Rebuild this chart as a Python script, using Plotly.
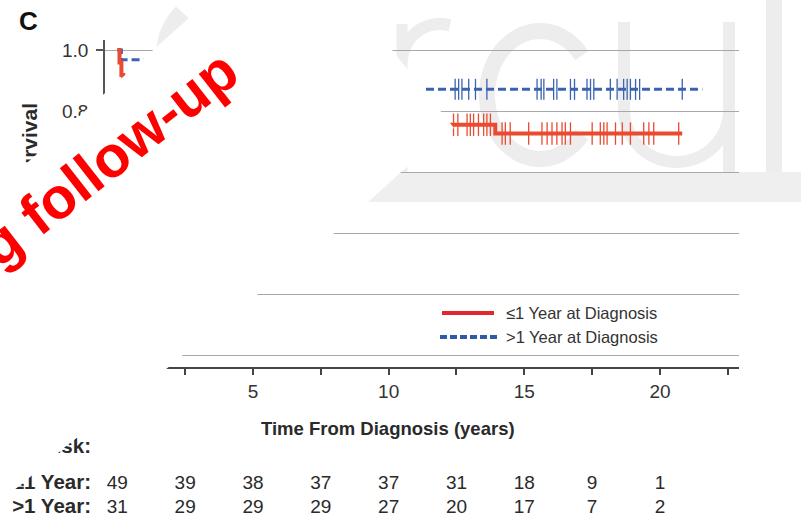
import numpy as np
import plotly.graph_objects as go

W, H = 801, 521

# ---------------- data ----------------
risk_times = [0, 2.5, 5, 7.5, 10, 12.5, 15, 17.5, 20]
risk_le1 = [49, 39, 38, 37, 37, 31, 18, 9, 1]
risk_gt1 = [31, 29, 29, 29, 27, 20, 17, 7, 2]

x_tickvals = [0, 2.5, 5, 7.5, 10, 12.5, 15, 17.5, 20, 22.5]
x_ticktext = ["0", "", "5", "", "10", "", "15", "", "20", ""]
y_tickvals = [0, 0.2, 0.4, 0.6, 0.8, 1.0]
y_ticktext = ["0.0", "0.2", "0.4", "0.6", "0.8", "1.0"]

# <=1 year at diagnosis (red, solid)
red_event_t = [0.08, 0.15, 0.22, 0.6, 1.0, 1.5, 2.1, 3.8, 6.3, 13.93]
red_surv = [0.959, 0.918, 0.878, 0.857, 0.837, 0.816, 0.796, 0.776, 0.755, 0.726]
red_end = 20.82
red_cens = [12.39, 12.55, 12.89, 13.01, 13.13, 13.31, 13.5, 13.62, 13.75,
            14.18, 14.3, 14.48, 15.16, 15.65, 15.84, 16.02, 16.2, 16.39,
            16.51, 16.7, 17.5, 17.8, 17.93, 18.05, 18.36, 18.61, 18.91,
            19.4, 19.59, 19.77, 20.69]

# >1 year at diagnosis (blue, dashed)
blue_event_t = [0.15, 1.2, 8.0, 9.3]
blue_surv = [0.968, 0.935, 0.903, 0.871]
blue_end = 21.56
blue_cens = [12.45, 12.58, 12.7, 12.95, 13.2, 13.62, 15.47, 15.62, 15.72,
             16.08, 16.2, 16.7, 16.85, 17.31, 17.44, 17.56, 18.17, 18.42,
             18.66, 18.79, 18.91, 19.1, 19.25, 20.82]

RED = "#ea4a30"
BLUE = "#3a63b3"
FONT = "Liberation Sans, Arial, sans-serif"
TXT = "#2a2a2a"


def step_xy(ev_t, surv, end):
    xs = [0.0] + list(ev_t) + [end]
    ys = [1.0] + list(surv) + [surv[-1]]
    return xs, ys


def surv_at(ev_t, surv, times):
    ev = np.array(ev_t)
    sv = np.array(surv)
    out = []
    for t in times:
        idx = np.searchsorted(ev, t, side="right") - 1
        out.append(1.0 if idx < 0 else float(sv[idx]))
    return out


def PX(x):
    return x / W


def PY(y):
    return 1 - y / H


def path(pts, close=True):
    s = "M " + " L ".join(f"{PX(x):.5f},{PY(y):.5f}" for x, y in pts)
    return s + (" Z" if close else "")


fig = go.Figure()

# ---- curves ----
rx, ry = step_xy(red_event_t, red_surv, red_end)
bx, by = step_xy(blue_event_t, blue_surv, blue_end)
fig.add_trace(go.Scatter(x=bx, y=by, mode="lines", line=dict(color=BLUE, width=3, dash="8px,4px", shape="hv"),
                         showlegend=False, hoverinfo="skip"))
fig.add_trace(go.Scatter(x=rx, y=ry, mode="lines", line=dict(color=RED, width=4, shape="hv"),
                         showlegend=False, hoverinfo="skip"))
fig.add_trace(go.Scatter(x=blue_cens, y=surv_at(blue_event_t, blue_surv, blue_cens), mode="markers",
                         marker=dict(symbol="line-ns", size=15, line=dict(color=BLUE, width=1.3)),
                         showlegend=False, hoverinfo="skip"))
fig.add_trace(go.Scatter(x=red_cens, y=surv_at(red_event_t, red_surv, red_cens), mode="markers",
                         marker=dict(symbol="line-ns", size=16, line=dict(color=RED, width=1.3)),
                         showlegend=False, hoverinfo="skip"))

# ---- number at risk (x in years, y in page pixels) ----
fig.add_trace(go.Scatter(x=risk_times, y=[484] * len(risk_times), xaxis="x", yaxis="y2", mode="text",
                         text=[str(v) for v in risk_le1], textposition="middle center",
                         textfont=dict(size=19, color=TXT, family=FONT), cliponaxis=False,
                         showlegend=False, hoverinfo="skip"))
fig.add_trace(go.Scatter(x=risk_times, y=[508] * len(risk_times), xaxis="x", yaxis="y2", mode="text",
                         text=[str(v) for v in risk_gt1], textposition="middle center",
                         textfont=dict(size=19, color=TXT, family=FONT), cliponaxis=False,
                         showlegend=False, hoverinfo="skip"))
fig.add_trace(go.Scatter(x=[91, 91, 91], y=[448, 484, 508], xaxis="x2", yaxis="y2", mode="text",
                         text=["<b>No. at Risk:</b>", "<b>≤1 Year:</b>", "<b>&gt;1 Year:</b>"],
                         textposition="middle left",
                         textfont=dict(size=20.5, color=TXT, family=FONT), cliponaxis=False,
                         showlegend=False, hoverinfo="skip"))
# carrier for the rotated y title axis
fig.add_trace(go.Scatter(x=[None], y=[None], xaxis="x2", yaxis="y3", mode="markers",
                         showlegend=False, hoverinfo="skip"))

# ---- watermark (behind everything) ----
WM = "#ededed"
shapes = []
shapes.append(dict(type="rect", xref="paper", yref="paper", x0=PX(300), x1=PX(801), y0=PY(202), y1=PY(172),
                   fillcolor="#efefef", line=dict(width=0), layer="below"))
th = np.radians(np.linspace(38, 322, 60))
c_pts = [(540 + 53 * np.cos(t), 95 - 64 * np.sin(t)) for t in th]
shapes.append(dict(type="path", xref="paper", yref="paper", path=path(c_pts, close=False),
                   line=dict(color=WM, width=16), layer="below"))
th = np.radians(np.linspace(180, 360, 40))
u_pts = [(624, 22), (624, 110)] + [(676.5 + 52.5 * np.cos(t), 110 - 52 * np.sin(t)) for t in th] + [(729, 22)]
shapes.append(dict(type="path", xref="paper", yref="paper", path=path(u_pts, close=False),
                   line=dict(color=WM, width=12), layer="below"))
shapes.append(dict(type="path", xref="paper", yref="paper", path=path([(729, 100), (729, 172)], close=False),
                   line=dict(color=WM, width=12), layer="below"))
shapes.append(dict(type="rect", xref="paper", yref="paper", x0=PX(766), x1=PX(782), y0=PY(172), y1=PY(-5),
                   fillcolor=WM, line=dict(width=0), layer="below"))
shapes.append(dict(type="path", xref="paper", yref="paper", path=path([(402, 172), (402, 24)], close=False),
                   line=dict(color=WM, width=11), layer="below"))
th = np.radians(np.linspace(180, 75, 20))
r_pts = [(440 + 38 * np.cos(t), 62 - 38 * np.sin(t)) for t in th]
shapes.append(dict(type="path", xref="paper", yref="paper", path=path(r_pts, close=False),
                   line=dict(color=WM, width=12), layer="below"))
th = np.radians(np.linspace(205, 135, 20))
a_pts = [(225 + 60 * np.cos(t), 55 - 60 * np.sin(t)) for t in th]
shapes.append(dict(type="path", xref="paper", yref="paper", path=path(a_pts, close=False),
                   line=dict(color=WM, width=18), layer="below"))

# ---- white diagonal banner (covers upper-left of chart) ----
band = [(-10, 196), (218, -8), (346, -8), (454, 128), (400, 173), (333, 234), (258, 294),
        (183, 355), (170, 366), (65, 447), (22, 484), (-10, 508)]
shapes.append(dict(type="path", xref="paper", yref="paper", path=path(band),
                   fillcolor="white", line=dict(width=0), layer="above"))

# ---- legend samples ----
shapes.append(dict(type="line", xref="paper", yref="paper", x0=PX(442), x1=PX(494), y0=PY(313), y1=PY(313),
                   line=dict(color="#e2282c", width=4), layer="above"))
shapes.append(dict(type="line", xref="paper", yref="paper", x0=PX(440), x1=PX(497), y0=PY(337), y1=PY(337),
                   line=dict(color="#2d5ba8", width=4, dash="7px,3px"), layer="above"))

annotations = [
    dict(text="<b>C</b>", x=PX(28), y=PY(21), xref="paper", yref="paper", showarrow=False,
         font=dict(size=26, color="#111", family=FONT), xanchor="center", yanchor="middle"),
    dict(text="<b>Time From Diagnosis (years)</b>", x=PX(388), y=PY(428), xref="paper", yref="paper",
         showarrow=False, font=dict(size=18.5, color=TXT, family=FONT), xanchor="center", yanchor="middle"),
    dict(text="≤1 Year at Diagnosis", x=PX(504), y=PY(313), xref="paper", yref="paper", showarrow=False,
         font=dict(size=16.5, color="#333", family=FONT), xanchor="left", yanchor="middle"),
    dict(text="&gt;1 Year at Diagnosis", x=PX(504), y=PY(337), xref="paper", yref="paper", showarrow=False,
         font=dict(size=16.5, color="#333", family=FONT), xanchor="left", yanchor="middle"),
    dict(text="<b>Long follow-up</b>", x=PX(66), y=PY(190), xref="paper", yref="paper", showarrow=False,
         textangle=-38, font=dict(size=58, color="#ff0000", family=FONT), xanchor="center", yanchor="middle"),
]

xr0 = (105 - 117.33) / 27.133
xr1 = (739 - 117.33) / 27.133
yr0 = (355 - 367) / 305
yr1 = (355 - 40) / 305

fig.update_layout(
    width=W, height=H,
    margin=dict(l=0, r=0, t=0, b=0, pad=0),
    paper_bgcolor="white", plot_bgcolor="rgba(0,0,0,0)",
    showlegend=False,
    font=dict(family=FONT, color=TXT),
    xaxis=dict(domain=[105 / W, 739 / W], range=[xr0, xr1], tickvals=x_tickvals, ticktext=x_ticktext,
               ticks="outside", ticklen=6, tickwidth=1.5, tickcolor="#444", showline=True, linecolor="#444",
               linewidth=2, showgrid=False, zeroline=False, tickfont=dict(size=19, color="#333"),
               anchor="y", automargin=False, fixedrange=True, ticklabelstandoff=0),
    yaxis=dict(domain=[1 - 367 / H, 1 - 40 / H], range=[yr0, yr1], tickvals=y_tickvals, ticktext=y_ticktext,
               ticks="outside", ticklen=7, tickwidth=1.5, tickcolor="#555", showline=True, linecolor="#555",
               linewidth=1.5, showgrid=True, gridcolor="#a8a8a8", gridwidth=1.3, zeroline=False,
               tickfont=dict(size=19, color="#333"), anchor="x", automargin=False, fixedrange=True,
               ticklabelstandoff=4),
    xaxis2=dict(domain=[0, 1], range=[0, W], visible=False, anchor="y2", fixedrange=True),
    yaxis2=dict(domain=[0, 1], range=[H, 0], visible=False, anchor="x2", fixedrange=True),
    yaxis3=dict(domain=[0, 1], range=[H, 0], overlaying="y2", anchor="free", position=41 / W, side="left",
                tickvals=[147], ticktext=["<b>Survival</b>"], tickangle=-90, showline=False, ticks="",
                showgrid=False, zeroline=False, tickfont=dict(size=21, color=TXT), automargin=False,
                fixedrange=True),
    shapes=shapes,
    annotations=annotations,
)

fig.write_html("out.html")
